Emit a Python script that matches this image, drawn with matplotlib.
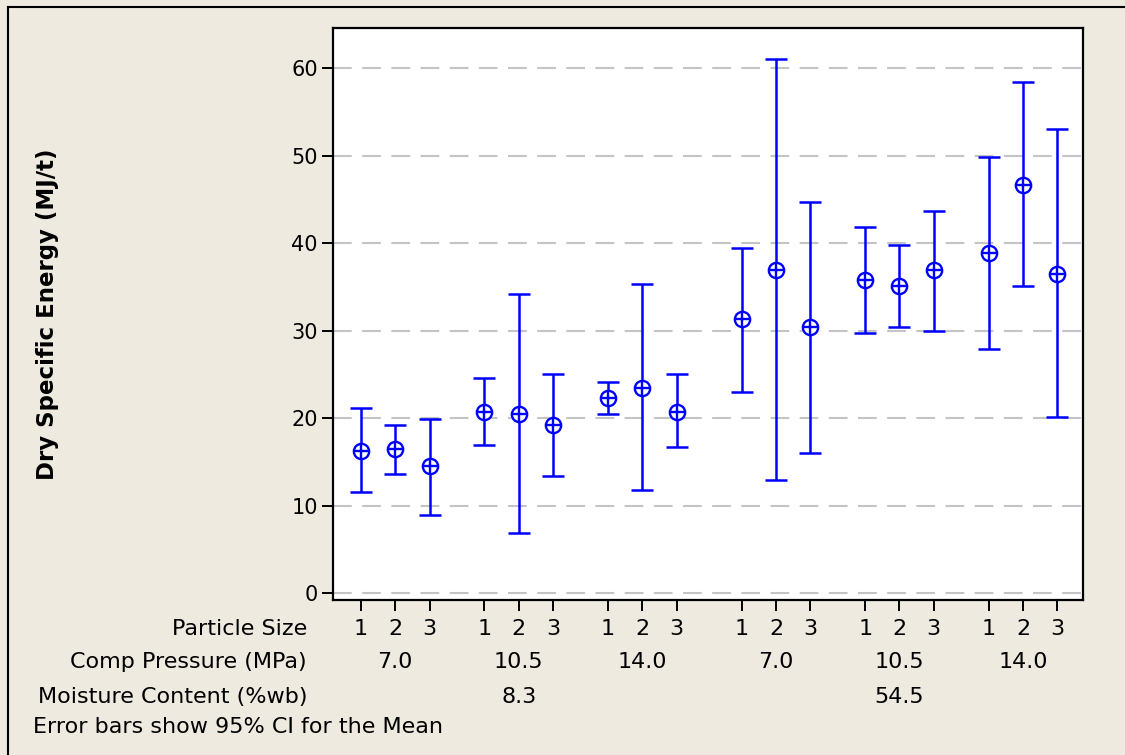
import matplotlib
matplotlib.use("Agg")
import matplotlib.pyplot as plt
import matplotlib.transforms as mtransforms
from matplotlib.lines import Line2D
import numpy as np

# ---- data ----
particle_size = ["1", "2", "3"]
comp_pressure = ["7.0", "10.5", "14.0"]
moisture = ["8.3", "54.5"]
means = [16.2, 16.5, 14.5, 20.7, 20.5, 19.2, 22.3, 23.4, 20.7,
         31.3, 36.9, 30.4, 35.8, 35.1, 36.9, 38.9, 46.7, 36.5]
upper = [21.1, 19.2, 19.9, 24.6, 34.2, 25.0, 24.1, 35.3, 25.0,
         39.5, 61.1, 44.7, 41.8, 39.8, 43.7, 49.9, 58.4, 53.0]
lower = [11.5, 13.6, 8.9, 16.9, 6.9, 13.4, 20.5, 11.8, 16.7,
         23.0, 12.9, 16.0, 29.7, 30.4, 29.9, 27.9, 35.1, 20.1]
yticks = [0, 10, 20, 30, 40, 50, 60]

# ---- layout of x positions (grouped) ----
xs, ps_lab, p_centers, m_centers = [], [], [], []
for m in range(len(moisture)):
    mx = []
    for p in range(len(comp_pressure)):
        px = []
        for s in range(len(particle_size)):
            x = s + 3.6 * p + 11.1 * m
            xs.append(x); px.append(x); ps_lab.append(particle_size[s])
        p_centers.append((np.mean(px), comp_pressure[p]))
        mx += px
    m_centers.append((np.mean(mx), moisture[m]))
xs = np.array(xs)
means = np.array(means); upper = np.array(upper); lower = np.array(lower)

bg = "#EEEAE0"
fig = plt.figure(figsize=(11.25, 7.55), dpi=100, facecolor=bg)
ax = fig.add_axes([333/1125, 1-600/755, (1083-333)/1125, (600-28)/755])
ax.set_facecolor("white")

blue = "#0000FF"
ax.errorbar(xs, means, yerr=[means - lower, upper - means], fmt="none",
            ecolor=blue, elinewidth=1.8, capsize=8, capthick=1.8, zorder=3)
ax.plot(xs, means, "o", ms=11, mfc="white", mec=blue, mew=1.7, ls="none", zorder=4)
ax.plot(xs, means, "+", ms=11, mec=blue, mew=1.7, ls="none", zorder=5)

ax.set_xlim(-0.816, 21.05)
ax.set_ylim(-0.8, 64.6)
ax.set_yticks(yticks)
ax.set_xticks(xs)
ax.set_xticklabels([])
for yv in yticks:
    ax.axhline(yv, color="#C4C4C4", lw=1.5, dashes=(9, 5), zorder=1)
ax.tick_params(axis="both", direction="out", length=8, width=1.4, color="black",
               labelsize=15, pad=3)
for sp in ax.spines.values():
    sp.set_color("black")
    sp.set_linewidth(1.6)

ax.set_ylabel("Dry Specific Energy (MJ/t)", fontsize=16.5, fontweight="bold", labelpad=0)
ax.yaxis.set_label_coords((59 - 333) / 750, 0.5)

trans = mtransforms.blended_transform_factory(ax.transData, fig.transFigure)
fs = 16
def fy(py):
    return 1 - py / 755

for x, l in zip(xs, ps_lab):
    ax.text(x, fy(629), l, transform=trans, ha="center", va="center", fontsize=fs)
for x, l in p_centers:
    ax.text(x, fy(662), l, transform=trans, ha="center", va="center", fontsize=fs)
for x, l in m_centers:
    ax.text(x, fy(697), l, transform=trans, ha="center", va="center", fontsize=fs)

fig.text(307/1125, fy(629), "Particle Size", ha="right", va="center", fontsize=fs)
fig.text(307/1125, fy(662), "Comp Pressure (MPa)", ha="right", va="center", fontsize=fs)
fig.text(307/1125, fy(697), "Moisture Content (%wb)", ha="right", va="center", fontsize=fs)
fig.text(33/1125, fy(727), "Error bars show 95% CI for the Mean", ha="left", va="center", fontsize=fs)

# outer frame (left and top edges visible)
fig.add_artist(Line2D([8/1125, 8/1125], [0, fy(7)], transform=fig.transFigure, color="black", lw=1.5))
fig.add_artist(Line2D([8/1125, 1], [fy(7), fy(7)], transform=fig.transFigure, color="black", lw=1.5))

fig.savefig("out.png", dpi=100, facecolor=bg)
